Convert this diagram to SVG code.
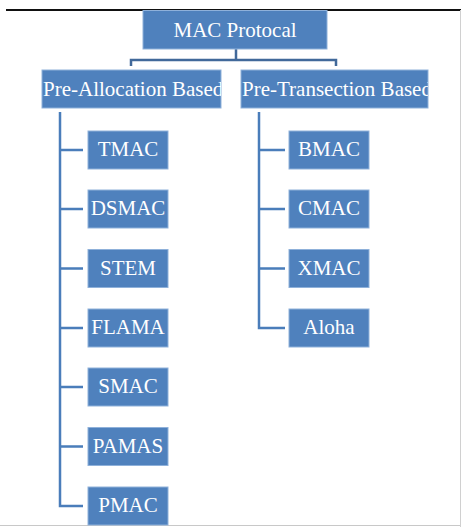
<svg xmlns="http://www.w3.org/2000/svg" width="461" height="527" viewBox="0 0 461 527">
<style>
.box{fill:#4F81BD;stroke:#8FB1DA;stroke-width:1}
.t{font-family:"Liberation Serif","Times New Roman",serif;font-size:21px;fill:#FFFFFF;text-anchor:middle}
.ts{font-family:"Liberation Serif","Times New Roman",serif;font-size:21px;fill:#FFFFFF}
.c{fill:none;stroke:#4A7DBA;stroke-width:2.5}
.ct{fill:none;stroke:#41699A;stroke-width:2.5}
</style>
<defs>
<clipPath id="clipA"><rect x="42" y="70" width="179" height="38"/></clipPath>
<clipPath id="clipT"><rect x="241" y="70" width="187" height="38"/></clipPath>
</defs>
<rect x="0" y="0" width="461" height="527" fill="#FFFFFF"/>
<line x1="6" y1="10" x2="461" y2="10" stroke="#111111" stroke-width="2"/>
<line x1="0" y1="525.5" x2="461" y2="525.5" stroke="#C8C8C8" stroke-width="1"/>
<line x1="460.5" y1="10" x2="460.5" y2="527" stroke="#D0D0D0" stroke-width="1"/>
<g id="connectors">
<path class="ct" d="M236,49 V60 M131,66 V60 H336 V66"/>
<path class="c" d="M60,112 V506 H83 M60,150 H83 M60,209 H83 M60,268.5 H83 M60,328 H83 M60,387 H83 M60,446.5 H83"/>
<path class="c" d="M259,112 V328 H285 M259,150 H285 M259,209 H285 M259,268.5 H285"/>
</g>
<g id="mac"><rect class="box" x="143" y="10.5" width="184" height="38.5"/><text class="t" x="235" y="36.5">MAC Protocal</text></g>
<g id="preAlloc"><rect class="box" x="42" y="70" width="179" height="38"/><text class="ts" x="43" y="96" clip-path="url(#clipA)">Pre-Allocation Based</text></g>
<g id="preTrans"><rect class="box" x="241" y="70" width="187" height="38"/><text class="ts" x="242" y="96" clip-path="url(#clipT)">Pre-Transection Based</text></g>
<g id="tmac"><rect class="box" x="88" y="131" width="80" height="38"/><text class="t" x="128" y="156">TMAC</text></g>
<g id="dsmac"><rect class="box" x="88" y="190" width="80" height="38"/><text class="t" x="128" y="215">DSMAC</text></g>
<g id="stem"><rect class="box" x="88" y="249.5" width="80" height="38"/><text class="t" x="128" y="274.5">STEM</text></g>
<g id="flama"><rect class="box" x="88" y="309" width="80" height="38"/><text class="t" x="128" y="334">FLAMA</text></g>
<g id="smac"><rect class="box" x="88" y="368" width="80" height="38"/><text class="t" x="128" y="393">SMAC</text></g>
<g id="pamas"><rect class="box" x="88" y="427.5" width="80" height="38"/><text class="t" x="128" y="452.5">PAMAS</text></g>
<g id="pmac"><rect class="box" x="88" y="487" width="80" height="38"/><text class="t" x="128" y="512">PMAC</text></g>
<g id="bmac"><rect class="box" x="289" y="131" width="80" height="38"/><text class="t" x="329" y="156">BMAC</text></g>
<g id="cmac"><rect class="box" x="289" y="190" width="80" height="38"/><text class="t" x="329" y="215">CMAC</text></g>
<g id="xmac"><rect class="box" x="289" y="249.5" width="80" height="38"/><text class="t" x="329" y="274.5">XMAC</text></g>
<g id="aloha"><rect class="box" x="289" y="309" width="80" height="38"/><text class="t" x="329" y="334">Aloha</text></g>
</svg>
